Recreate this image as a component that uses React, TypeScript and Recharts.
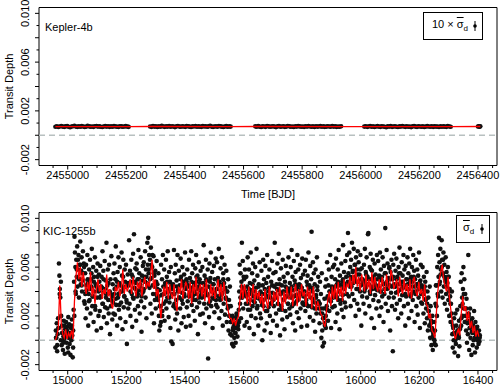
import React from 'react'
import {
  ComposedChart, Scatter, XAxis, YAxis,
  ReferenceLine, ReferenceArea,
} from 'recharts'

// ---- Kepler-4b: one depth per plotted transit, units of 1e-5, per observing quarter
const k4QuarterStart = [2454958, 2455281, 2455640, 2456012, 2456400]
const k4QuarterEnd   = [2455208, 2455556, 2455933, 2456307, 2456408]
const k4Depth = [
  [70, 74, 68, 72, 76, 71, 69, 73, 75, 70, 66, 72, 74, 78, 71, 69, 73, 70, 75, 72, 68, 71, 77, 73, 70, 72,
   69, 74, 76, 71, 73, 70, 68, 72, 75, 71, 74, 69, 73, 70, 76, 72, 71, 68, 74, 73, 70, 72, 75, 71, 69],
  [72, 69, 75, 71, 73, 68, 74, 70, 77, 72, 69, 73, 71, 75, 70, 74, 72, 67, 73, 76, 71, 70, 74, 72, 69, 75,
   73, 71, 68, 74, 72, 76, 70, 73, 71, 69, 75, 72, 74, 70, 73, 77, 71, 69, 72, 74, 70, 76, 73, 71, 68, 72,
   75, 70, 73, 71],
  [73, 70, 75, 71, 68, 74, 72, 69, 76, 73, 70, 72, 74, 71, 67, 73, 75, 70, 72, 74, 69, 71, 76, 73, 70, 72,
   68, 74, 71, 75, 73, 70, 72, 69, 74, 71, 76, 72, 70, 73, 68, 74, 71, 72, 75, 70, 73, 69, 71, 74, 72, 70,
   76, 71, 73, 69, 72, 70, 74],
  [71, 74, 69, 72, 76, 70, 73, 68, 72, 75, 71, 69, 74, 72, 70, 66, 73, 71, 75, 69, 72, 74, 70, 68, 73, 71,
   76, 72, 69, 74, 70, 72, 67, 73, 75, 71, 69, 74, 72, 70, 73, 68, 71, 75, 72, 70, 74, 69, 73, 71, 72, 68,
   74, 70, 73, 71, 69, 75, 72, 70],
  [72, 74, 70, 73],
]
const k4TrendTime  = [2454958, 2455208, 2455281, 2455556, 2455640, 2455933, 2456012, 2456307, 2456408]
const k4TrendDepth = [71, 71, 72, 71, 72, 71, 71, 71, 72]

// ---- KIC-1255b: depths in 50-day blocks from kicStart, units of 1e-4
const kicStart = 14958
const kicBlock = 50
const kicDepth = [
  [-6, 8, 2, 14, -9, 5, 18, 10, 63, 53, 42, 35, 0, 20, -4, 12, 6, -8, 3, 16, 1, -11, 9, 4, 15, -2, 7, 11, -6, 19, 2, 13, -3],
  [6, -12, 10, 0, 17, 4, -14, 8, 25, 48, 85, 72, 60, 38, 66, 52, 77, 44, 58, 70, 35, 62, 50, 81, 46, 57, 68, 40, 55, 73, 49, 63, 32],
  [30, 55, 18, 62, 41, 26, 70, 47, 12, 38, 58, 33, 66, 22, 50, 44, 75, 28, 36, 60, 15, 52, 40, 68, 25, 46, 57, 8, 35, 63, 43, 20, 54],
  [48, 24, 61, 36, 10, 52, 43, 73, 30, 57, 19, 40, 65, 27, 49, 35, 80, 14, 45, 58, 33, 22, 62, 39, 5, 50, 28, 69, 37, 17, 46, 31, 55],
  [38, 63, 21, 50, 77, 29, 44, 12, 56, 35, 68, 25, 47, 60, 18, 40, 31, 72, 53, 9, 43, 66, 27, 36, 58, 48, 15, 62, 33, -3, 45, 54, 26],
  [45, 82, 30, 57, 20, 48, 66, 38, 11, 52, 71, 34, 87, 43, 25, 59, 47, 16, 63, 36, 50, 28, 74, 41, 55, 22, 46, 68, 32, 7, 53, 39, 61],
  [40, 64, 27, 52, 73, 35, 58, 18, 47, 80, 62, 84, 55, 70, 43, 66, 30, 76, 51, 22, 60, 45, 38, 69, 14, 53, 33, 57, 26, 48, 65, 36, 42],
  [33, 55, 20, 8, 41, 12, 28, 62, 37, 50, 24, 70, 44, 30, 58, 16, 47, 39, 66, 26, 52, 35, 73, 42, 19, 56, 31, 48, 10, 60, -1, 38, 45],
  [-3, 46, 28, 74, 38, 55, 17, 62, 33, 49, 22, 70, 41, 8, 57, 35, 45, 26, 67, 52, 14, 39, 60, 30, 48, 19, 54, 36, 72, 43, 11, 50, 27],
  [58, 32, 45, 20, 66, 38, 51, 12, 43, 73, 29, 55, 36, 62, 24, 47, 40, 16, 59, 33, 70, 48, 27, 53, 5, 44, 64, 31, 50, 21, 57, 37, 42],
  [35, 60, 22, 47, 78, 30, 53, 14, 41, 66, 26, 49, 37, 58, -15, 44, 19, 63, 32, 51, 72, 28, 40, 56, 10, 46, 34, 61, 23, 50, 38, 67, 29],
  [42, 64, 27, 51, 36, 75, 18, 48, 33, 59, 45, 24, 68, 39, 12, 55, 30, 47, 62, 21, 43, 35, 57, 15, 40, 26, 50, 8, 33, 20, 44, 5, 28],
  [15, 4, -3, 20, 8, -5, 12, 2, 18, 6, -2, 10, 22, 14, 3, 16, 9, 25, 40, 62, 30, 55, 18, 48, 80, 35, 65, 26, 52, 42, 12, 58, 37],
  [30, 52, 15, 44, 68, 25, 38, 58, 10, 47, 33, 72, 20, 41, 55, 28, 63, 36, 5, 49, 31, 60, 18, 43, 75, 26, 53, 37, 12, 46, 34, 64, 22],
  [40, 18, 57, 29, 0, 45, 66, 33, 50, 8, 38, 61, 24, 47, 14, 70, 36, 52, 27, 43, 58, 20, 35, 6, 48, 31, 65, 39, 16, 55, 28, 44, 80],
  [35, 56, 22, 46, 12, 63, 30, 41, 71, 25, 50, 4, 38, 59, 28, 45, 17, 66, 33, 52, 40, 9, 48, 24, 61, 36, 43, 19, 55, 30, 68, 42, 26],
  [47, 21, 60, 35, 74, 28, 52, 14, 41, 65, 30, 49, 8, 56, 37, 44, 23, 70, 33, 58, 18, 46, 39, 62, 26, 51, 11, 43, 67, 31, 54, 36, 29],
  [40, 57, 24, 66, 33, 48, 12, 53, 28, 72, 38, 45, 19, 61, 35, 50, 89, 27, 43, 64, 16, 55, 31, 46, 7, 58, 37, 22, 68, 41, 30, 52, 26],
  [30, 14, 48, 22, 38, 2, 55, 8, -5, 18, 26, -2, 34, 12, 44, 20, 50, 28, 64, 36, 16, 45, 58, 24, 40, 70, 32, 10, 52, 43, 27, 60, 35],
  [41, 62, 28, 50, 15, 67, 36, 46, 22, 58, 33, 74, 40, 9, 53, 30, 45, 63, 25, 48, 37, 78, 19, 56, 43, 31, 65, 27, 52, 38, 70, 47, 88],
  [55, 36, 72, 44, 60, 28, 66, 50, 80, 38, 57, 47, 75, 33, 62, 52, 20, 68, 42, 58, 30, 73, 48, 64, 25, 54, 40, 70, 45, 12, 59, 36, 50],
  [48, 30, 62, 40, 75, 22, 56, 44, 68, 35, 52, 87, 88, 46, 28, 60, 38, 71, 50, 18, 57, 42, 66, 33, 49, 10, 63, 37, 54, 45, 26, 70, 41],
  [44, 65, 32, 53, 20, 72, 40, 58, 27, 49, 36, 68, 46, 15, 61, 38, 55, 92, 30, 47, 74, 42, 63, 24, 51, 35, 59, 45, 8, 56, 39, 66, 28],
  [50, -9, 62, 35, 71, 44, 25, 57, 39, 67, 30, 52, 46, 18, 60, 41, 76, 33, 55, 48, 22, 64, 37, 53, 43, 70, 28, 58, 45, 12, 61, 36, 50],
  [42, 68, 30, 55, 18, 63, 47, 75, 36, 52, 24, 60, 44, 33, 70, 40, 57, 15, 50, 38, 66, 28, 46, 58, 21, 53, 35, 72, 43, 10, 49, 62, 31],
  [45, 30, 60, 38, 22, 52, 41, 14, 48, 33, 26, 56, 18, 40, 8, 35, 24, 12, 44, 2, 28, 16, -4, 10, 20, -8, 6, 1, 15, -3, 8, 30, 45],
  [28, 45, 60, 38, 70, 52, 84, 64, 48, 75, 58, 40, 82, 66, 35, 55, 72, 44, 62, 30, 50, 68, 38, 56, 25, 47, 60, 33, 52, 20, 42, 36, 15],
  [30, 15, 40, 5, -6, 10, 0, 18, -10, 6, 22, -3, 12, 2, 25, 8, -13, 4, 16, -5, 9, 28, 48, 12, 55, 35, 20, 42, 60, 26, 50, 15, 38],
  [20, 8, 34, -2, 14, 5, 70, 22, -8, 10, 26, 2, 16, -12, 7, 18, -4, 12, 0, 24, 6, -10, 15, 3, 9, -6, 11, 1, 5, -3, 8, -1, 4],
]
// more transits in the same blocks, read from the dense core of the cloud
const kicDepthCore = [
  [2, -4, 10, 38, 48, 6, -2, 12, 4, 8, -10, 5],
  [3, 12, -6, 20, 40, 58, 66, 50, 62, 45, 55, 60],
  [38, 45, 50, 32, 42, 55, 36, 48, 28, 44, 52, 40],
  [35, 44, 30, 50, 42, 38, 26, 47, 40, 33, 36, 22],
  [42, 34, 48, 38, 29, 45, 40, 52, 36, 44, 31, 47],
  [46, 40, 54, 35, 48, 42, 58, 38, 50, 44, 36, 49],
  [42, 48, 52, 45, 58, 50, 62, 70, 55, 44, 38, 46],
  [36, 28, 15, 20, 38, 44, 32, 48, 40, 35, 46, 42],
  [38, 30, 26, 44, 40, 35, 50, 33, 45, 38, 42, 48],
  [44, 36, 40, 48, 33, 45, 38, 52, 42, 35, 47, 40],
  [40, 36, 45, 50, 38, 30, 48, 42, 35, 46, 39, 33],
  [42, 48, 36, 45, 38, 50, 42, 34, 40, 28, 20, 15],
  [18, 10, 14, 6, 20, 12, 15, 35, 44, 38, 50, 40],
  [36, 30, 42, 25, 38, 46, 32, 40, 35, 28, 44, 38],
  [32, 38, 28, 42, 35, 24, 40, 36, 30, 45, 33, 38],
  [35, 42, 30, 46, 38, 25, 40, 34, 44, 36, 30, 40],
  [38, 44, 30, 36, 46, 32, 42, 35, 45, 38, 30, 40],
  [36, 30, 45, 38, 42, 28, 40, 34, 26, 35, 44, 32],
  [30, 26, 22, 18, 14, 10, 25, 34, 40, 32, 44, 38],
  [38, 44, 35, 48, 40, 45, 33, 50, 42, 46, 38, 48],
  [46, 52, 44, 56, 50, 62, 48, 54, 42, 58, 50, 46],
  [48, 42, 54, 46, 50, 40, 58, 44, 52, 47, 42, 50],
  [44, 50, 40, 52, 46, 42, 55, 48, 45, 60, 50, 44],
  [52, 46, 44, 50, 40, 55, 46, 42, 48, 44, 38, 50],
  [46, 42, 50, 38, 48, 52, 44, 40, 46, 42, 48, 38],
  [42, 38, 44, 34, 30, 24, 20, 14, 8, 4, 0, -4],
  [20, 36, 46, 54, 60, 66, 52, 48, 44, 52, 40, 30],
  [22, 12, 6, 0, 4, 8, 2, 10, 18, 30, 38, 26],
  [26, 16, 20, 10, 14, 6, 10, 2, 6, 0, 4, 2],
]
// smoothed depth (red), same blocks, units of 1e-4
const kicTrend = [
  [0, 4, 10, 45, 14, 5, 2, 9, 1, 6],
  [3, 8, 1, 32, 52, 64, 50, 60, 44, 56],
  [46, 38, 48, 40, 56, 36, 44, 30, 42, 50],
  [40, 46, 34, 42, 38, 54, 36, 42, 30, 26],
  [34, 44, 40, 48, 36, 42, 58, 38, 46, 40],
  [44, 50, 38, 52, 42, 36, 48, 42, 50, 36],
  [46, 52, 42, 48, 44, 54, 66, 42, 50, 36],
  [42, 30, 18, 32, 44, 36, 48, 34, 46, 38],
  [34, 46, 30, 24, 44, 38, 50, 34, 42, 48],
  [44, 34, 48, 30, 46, 38, 52, 34, 42, 46],
  [36, 46, 32, 50, 38, 30, 46, 36, 44, 34],
  [42, 50, 36, 46, 32, 48, 38, 30, 24, 18],
  [18, 14, 18, 12, 17, 20, 34, 46, 34, 46],
  [38, 30, 44, 28, 38, 46, 30, 42, 34, 40],
  [30, 38, 24, 42, 32, 26, 44, 34, 28, 40],
  [32, 42, 28, 44, 36, 24, 40, 30, 44, 34],
  [34, 44, 28, 40, 46, 28, 42, 32, 46, 36],
  [40, 28, 44, 34, 42, 26, 44, 34, 24, 32],
  [28, 22, 20, 14, 11, 24, 34, 40, 28, 44],
  [34, 46, 32, 48, 36, 44, 32, 50, 38, 46],
  [44, 52, 40, 54, 46, 60, 44, 52, 40, 54],
  [48, 40, 54, 42, 50, 38, 56, 42, 52, 44],
  [40, 50, 38, 52, 44, 38, 54, 44, 42, 58],
  [52, 42, 46, 50, 36, 52, 42, 38, 50, 40],
  [46, 36, 50, 34, 48, 52, 40, 36, 48, 38],
  [42, 32, 46, 30, 28, 18, 22, 8, 6, 2],
  [22, 40, 50, 56, 62, 50, 44, 40, 52, 34],
  [24, 14, 6, 1, 6, 9, 4, 22, 36, 24],
  [28, 16, 24, 10, 16, 6, 12, 3, 8, 3],
]

const k4Labels  = [2455000, 2455200, 2455400, 2455600, 2455800, 2456000, 2456200, 2456400]
const kicLabels = [15000, 15200, 15400, 15600, 15800, 16000, 16200, 16400]
const yTicks  = [-0.002, -0.001, 0, 0.001, 0.002, 0.003, 0.004, 0.005, 0.006, 0.007, 0.008, 0.009, 0.01]
const yLabels = [-0.002, 0.002, 0.006, 0.01]

const FONT = '"Liberation Sans", Arial, Helvetica, sans-serif'
const Y_DOMAIN: [number, number] = [-0.00248, 0.01048]

const everyFifty = (from: number, to: number) =>
  Array.from({ length: (to - from) / 50 + 1 }, (_, i) => from + i * 50)

const k4Points = k4Depth.flatMap((q, i) =>
  q.map((d, j) => ({
    t: k4QuarterStart[i] + ((k4QuarterEnd[i] - k4QuarterStart[i]) * j) / (q.length - 1),
    d: d * 1e-5,
  })))
const k4Line = k4TrendTime.map((t, i) => ({ t, d: k4TrendDepth[i] * 1e-5 }))

const blocksToPoints = (rows: number[][], shift = 0) =>
  rows.flatMap((row, b) =>
    row.map((d, j) => ({
      t: kicStart + b * kicBlock + ((j + shift) * kicBlock) / row.length,
      d: d * 1e-4,
    })))
const kicPoints = [...blocksToPoints(kicDepth), ...blocksToPoints(kicDepthCore, 0.5)]
const kicLine = blocksToPoints(kicTrend)

function makeXTick(labels: number[]) {
  return (p: any) => {
    const v = p.payload.value
    const major = labels.includes(v)
    return (
      <g>
        <line x1={p.x} x2={p.x} y1={p.y} y2={p.y + (major ? 4 : 2.5)} stroke="#000" />
        {major && (
          <text x={p.x} y={p.y + 13} textAnchor="middle" fontSize={11} fontFamily={FONT} fill="#000">
            {v}
          </text>
        )}
      </g>
    )
  }
}

function YTick(p: any) {
  const v = p.payload.value
  const major = Math.round(v * 1000) % 2 === 0
  const labelled = yLabels.some((l) => Math.abs(l - v) < 1e-9)
  return (
    <g>
      <line x1={p.x} x2={p.x - (major ? 4 : 2.5)} y1={p.y} y2={p.y} stroke="#000" />
      {labelled && (
        <text
          x={p.x - 10} y={p.y} transform={`rotate(-90 ${p.x - 10} ${p.y})`}
          textAnchor="middle" fontSize={11} fontFamily={FONT} fill="#000"
        >
          {v.toFixed(3)}
        </text>
      )}
    </g>
  )
}

function ErrBar() {
  return (
    <svg width="6" height="12" style={{ display: 'block' }}>
      <line x1="3" x2="3" y1="1" y2="11" stroke="#000" strokeWidth="1" />
      <circle cx="3" cy="6" r="1.8" fill="#000" />
    </svg>
  )
}

const Sigma = () => (
  <span>
    <span style={{ textDecoration: 'overline' }}>σ</span>
    <sub style={{ fontSize: 8 }}>d</sub>
  </span>
)

const dotMarker = (props: any) => <circle cx={props.cx} cy={props.cy} r={2.3} fill="#111" />
const noMarker = () => <g />

interface PanelProps {
  points: { t: number; d: number }[]
  trend: { t: number; d: number }[]
  xDomain: [number, number]
  labels: number[]
  minor: number[]
  height: number
  top: number
  bottom: number
  xAxisHeight: number
  xTitle?: string
}

function Panel(p: PanelProps) {
  return (
    <ComposedChart
      width={500} height={p.height}
      margin={{ top: p.top, right: 3, bottom: p.bottom, left: 0 }}
    >
      <XAxis
        type="number" dataKey="t" domain={p.xDomain} allowDataOverflow
        ticks={p.minor} interval={0} tick={makeXTick(p.labels)}
        tickSize={0} tickMargin={0} tickLine={false} axisLine={false}
        height={p.xAxisHeight}
        label={p.xTitle ? {
          value: p.xTitle, position: 'insideBottom', offset: -3,
          style: { fontSize: 11, fontFamily: FONT, fill: '#000' },
        } : undefined}
      />
      <YAxis
        type="number" dataKey="d" domain={Y_DOMAIN} allowDataOverflow
        ticks={yTicks} interval={0} tick={YTick}
        tickSize={0} tickMargin={0} tickLine={false} axisLine={false} width={39}
        label={{
          value: 'Transit Depth', angle: -90, position: 'insideLeft', offset: 9,
          style: { fontSize: 11, fontFamily: FONT, fill: '#000', textAnchor: 'middle' },
        }}
      />
      <ReferenceLine y={0} stroke="#b8c0c0" strokeWidth={1.5} strokeDasharray="6 4" />
      <Scatter data={p.points} shape={dotMarker} isAnimationActive={false} />
      {/* smoothed depth drawn as a second scatter's joining line so it stays above the dots */}
      <Scatter
        data={p.trend} shape={noMarker} line={{ stroke: '#ff0000', strokeWidth: 1.3 }}
        lineType="joint" isAnimationActive={false}
      />
      <ReferenceArea
        x1={p.xDomain[0]} x2={p.xDomain[1]} y1={Y_DOMAIN[0]} y2={Y_DOMAIN[1]}
        fill="none" stroke="#000" strokeWidth={1} ifOverflow="visible"
      />
    </ComposedChart>
  )
}

const textStyle: React.CSSProperties = { position: 'absolute', fontFamily: FONT, fontSize: 11, color: '#000' }
const legendBox: React.CSSProperties = {
  position: 'absolute', border: '1.3px solid #000', boxSizing: 'border-box', background: '#fff',
  display: 'flex', alignItems: 'center', fontFamily: FONT, fontSize: 11, color: '#000',
}

export default function App() {
  return (
    <div style={{ position: 'absolute', left: 0, top: 0, width: 500, height: 389, background: '#fff' }}>
      <div style={{ position: 'absolute', left: 0, top: 0 }}>
        <Panel
          points={k4Points} trend={k4Line} xDomain={[2454902, 2456465]}
          labels={k4Labels} minor={everyFifty(2454950, 2456450)}
          height={205} top={7.5} bottom={10} xAxisHeight={29.5} xTitle="Time [BJD]"
        />
      </div>
      <div style={{ position: 'absolute', left: 0, top: 195 }}>
        <Panel
          points={kicPoints} trend={kicLine} xDomain={[14902, 16465]}
          labels={kicLabels} minor={everyFifty(14950, 16450)}
          height={194} top={17.5} bottom={0} xAxisHeight={18.5}
        />
      </div>
      <div style={{ ...textStyle, left: 45, top: 21 }}>Kepler-4b</div>
      <div style={{ ...textStyle, left: 43, top: 225 }}>KIC-1255b</div>
      <div style={{ ...legendBox, left: 423, top: 12, width: 60, height: 28, paddingLeft: 8 }}>
        <span style={{ whiteSpace: 'nowrap' }}>10 × <Sigma /></span>
        <span style={{ marginLeft: 'auto', marginRight: 4 }}><ErrBar /></span>
      </div>
      <div style={{ ...legendBox, left: 456, top: 215, width: 34, height: 28, paddingLeft: 6 }}>
        <Sigma />
        <span style={{ marginLeft: 'auto', marginRight: 4 }}><ErrBar /></span>
      </div>
    </div>
  )
}
